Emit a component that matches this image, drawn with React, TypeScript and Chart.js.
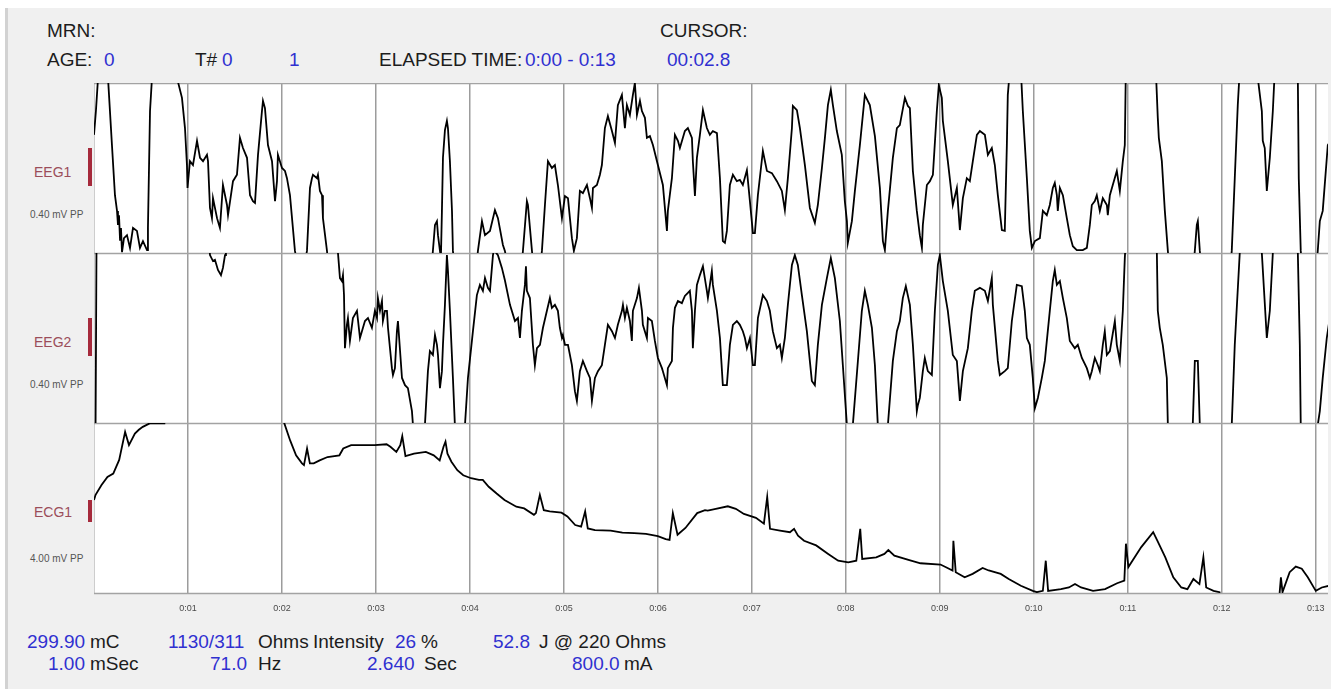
import React, { useEffect, useRef } from 'react';
import { Chart, registerables } from 'chart.js';

Chart.register(...registerables);

// ---- time axis (seconds) ----
const xTickSeconds = [0, 1, 2, 3, 4, 5, 6, 7, 8, 9, 10, 11, 12, 13];
const xTickLabels = ['', '0:01', '0:02', '0:03', '0:04', '0:05', '0:06', '0:07', '0:08', '0:09', '0:10', '0:11', '0:12', '0:13'];
const timeMax = 13.13;

// ---- EEG1 (µV, 0.40 mV PP => ±200 µV) ----
const eeg1Time = [0, 0.021, 0.043, 0.149, 0.191, 0.223, 0.245, 0.255, 0.266, 0.277, 0.287, 0.298, 0.319, 0.351, 0.383, 0.415, 0.457, 0.489, 0.521, 0.564, 0.574, 0.596, 0.617, 0.883, 0.936, 0.968, 0.989, 0.995, 1.021, 1.053, 1.096, 1.128, 1.16, 1.202, 1.213, 1.234, 1.255, 1.266, 1.309, 1.34, 1.372, 1.415, 1.426, 1.479, 1.521, 1.553, 1.585, 1.628, 1.66, 1.691, 1.713, 1.745, 1.787, 1.798, 1.819, 1.851, 1.894, 1.926, 1.947, 1.957, 2.0, 2.032, 2.053, 2.085, 2.138, 2.16, 2.245, 2.266, 2.298, 2.319, 2.33, 2.372, 2.383, 2.404, 2.426, 2.436, 2.479, 2.489, 3.596, 3.606, 3.628, 3.649, 3.66, 3.681, 3.691, 3.702, 3.713, 3.734, 3.755, 3.766, 3.787, 3.809, 3.819, 3.83, 4.074, 4.085, 4.128, 4.16, 4.213, 4.266, 4.298, 4.351, 4.372, 4.394, 4.553, 4.564, 4.606, 4.617, 4.66, 4.67, 4.755, 4.766, 4.798, 4.83, 4.872, 4.904, 4.936, 4.979, 5.011, 5.043, 5.085, 5.106, 5.138, 5.17, 5.202, 5.245, 5.277, 5.298, 5.309, 5.351, 5.383, 5.404, 5.436, 5.468, 5.511, 5.543, 5.574, 5.617, 5.649, 5.67, 5.702, 5.734, 5.755, 5.777, 5.809, 5.83, 5.862, 5.883, 5.915, 5.947, 6.0, 6.053, 6.096, 6.106, 6.149, 6.181, 6.213, 6.234, 6.287, 6.319, 6.362, 6.372, 6.394, 6.415, 6.447, 6.479, 6.521, 6.553, 6.585, 6.628, 6.66, 6.691, 6.713, 6.734, 6.766, 6.798, 6.84, 6.872, 6.904, 6.947, 6.979, 7.011, 7.032, 7.064, 7.117, 7.16, 7.213, 7.266, 7.319, 7.351, 7.383, 7.426, 7.436, 7.479, 7.511, 7.564, 7.617, 7.67, 7.702, 7.745, 7.777, 7.809, 7.84, 7.862, 7.904, 7.957, 7.989, 8.011, 8.021, 8.064, 8.096, 8.149, 8.202, 8.255, 8.309, 8.362, 8.394, 8.415, 8.447, 8.5, 8.543, 8.574, 8.628, 8.66, 8.681, 8.713, 8.755, 8.787, 8.809, 8.819, 8.862, 8.894, 8.926, 8.968, 8.989, 9.021, 9.032, 9.085, 9.138, 9.181, 9.213, 9.245, 9.287, 9.319, 9.351, 9.394, 9.426, 9.479, 9.511, 9.553, 9.585, 9.617, 9.66, 9.691, 9.713, 9.723, 9.745, 9.862, 9.883, 9.926, 9.957, 9.979, 10.011, 10.064, 10.096, 10.138, 10.17, 10.202, 10.223, 10.245, 10.255, 10.277, 10.309, 10.351, 10.383, 10.415, 10.457, 10.521, 10.564, 10.596, 10.617, 10.649, 10.67, 10.702, 10.734, 10.777, 10.787, 10.809, 10.84, 10.883, 10.915, 10.947, 10.968, 10.979, 11.298, 11.319, 11.33, 11.362, 11.394, 11.426, 11.436, 11.702, 11.713, 11.734, 11.745, 11.766, 11.777, 12.096, 12.106, 12.138, 12.17, 12.191, 12.372, 12.383, 12.426, 12.436, 12.457, 12.479, 12.511, 12.543, 12.564, 12.798, 12.809, 12.819, 12.84, 12.851, 13.011, 13.021, 13.043, 13.074, 13.128, 13.16];
const eeg1Value = [78, 136, 212, 212, 54, -64, -101, -134, -111, -169, -141, -198, -165, -158, -188, -141, -148, -188, -172, -193, -141, 134, 212, 212, 165, 94, 7, -47, 16, 7, 64, 24, 16, 31, 16, -94, -118, -71, -118, -141, -40, -87, -111, -31, -16, 71, 47, 24, -64, -78, -82, 31, 134, 158, 141, 54, 16, -78, -31, 31, 0, -7, -24, -64, -195, -221, -221, -195, -47, -24, -16, -24, -16, -54, -64, -118, -195, -221, -221, -195, -134, -125, -158, -195, -212, -101, 24, 89, 111, 94, 16, -101, -195, -221, -221, -195, -125, -158, -148, -99, -118, -181, -195, -221, -221, -195, -78, -87, -195, -221, -221, -195, -87, 16, 0, 7, -40, -118, -66, -71, -165, -195, -165, -54, -59, -40, -71, -94, -47, -40, -16, 7, 94, 122, 87, 59, 148, 172, 94, 148, 125, 172, 200, 125, 158, 134, 118, 71, 75, 54, 7, -40, -148, -101, -24, 78, 64, 47, 87, 94, 71, 16, -66, 24, 78, 136, 94, 78, 87, 82, -24, -172, -176, -148, -40, -16, -31, -28, -40, -5, -78, -153, -153, -64, 40, -7, -12, -31, -54, -99, -24, 94, 146, 136, 94, 7, -94, -129, -87, 0, 71, 148, 184, 148, 87, 31, -78, -125, -176, -125, -54, 54, 172, 148, 75, -47, -172, -193, -101, 24, 94, 101, 165, 146, 141, -7, -101, -158, -188, -134, -40, -31, -16, 134, 195, 165, 111, 16, -87, -47, -146, -71, -24, -31, 16, 78, 87, 78, 31, 47, 7, -64, -146, -148, 54, 172, 231, 231, 134, -24, -148, -188, -172, -165, -101, -111, -87, -47, -35, -64, -101, -47, -64, -118, -158, -184, -193, -193, -188, -134, -87, -78, -64, -101, -71, -87, -111, -64, -40, -7, -54, 16, 54, 231, 231, 118, 71, 16, -101, -195, -221, -221, -195, -134, -125, -195, -221, -221, -195, -24, 148, 231, 231, 212, 134, 64, 47, -54, 24, 134, 231, 231, 212, -24, -195, -221, -221, -195, -125, -101, 54, 64];

// ---- EEG2 (µV, ±200) ----
const eeg2Time = [0, 0.016, 0.027, 1.223, 1.234, 1.266, 1.287, 1.319, 1.351, 1.372, 1.394, 1.404, 2.585, 2.596, 2.617, 2.638, 2.649, 2.66, 2.67, 2.691, 2.702, 2.723, 2.755, 2.798, 2.83, 2.851, 2.883, 2.915, 2.957, 2.989, 3.011, 3.021, 3.043, 3.064, 3.074, 3.096, 3.117, 3.128, 3.17, 3.181, 3.202, 3.223, 3.234, 3.277, 3.309, 3.34, 3.383, 3.394, 3.404, 3.511, 3.521, 3.553, 3.574, 3.606, 3.628, 3.649, 3.66, 3.681, 3.702, 3.713, 3.734, 3.755, 3.766, 3.787, 3.819, 3.84, 3.851, 3.936, 3.947, 3.979, 4.032, 4.074, 4.106, 4.138, 4.16, 4.191, 4.213, 4.245, 4.255, 4.298, 4.34, 4.372, 4.426, 4.479, 4.511, 4.532, 4.553, 4.585, 4.596, 4.606, 4.638, 4.67, 4.691, 4.713, 4.745, 4.777, 4.819, 4.851, 4.872, 4.904, 4.936, 4.957, 4.979, 4.989, 5.011, 5.043, 5.085, 5.117, 5.138, 5.17, 5.202, 5.245, 5.277, 5.298, 5.33, 5.362, 5.404, 5.436, 5.468, 5.511, 5.543, 5.574, 5.617, 5.628, 5.649, 5.67, 5.702, 5.723, 5.734, 5.777, 5.798, 5.83, 5.84, 5.883, 5.894, 5.936, 5.968, 6.0, 6.043, 6.053, 6.096, 6.106, 6.149, 6.16, 6.181, 6.213, 6.255, 6.287, 6.319, 6.34, 6.362, 6.372, 6.394, 6.415, 6.447, 6.479, 6.521, 6.532, 6.553, 6.574, 6.585, 6.628, 6.66, 6.691, 6.734, 6.766, 6.798, 6.84, 6.872, 6.904, 6.926, 6.947, 6.979, 7.011, 7.032, 7.064, 7.117, 7.16, 7.191, 7.223, 7.266, 7.298, 7.319, 7.351, 7.383, 7.426, 7.457, 7.489, 7.532, 7.585, 7.638, 7.67, 7.702, 7.745, 7.798, 7.84, 7.883, 7.936, 7.968, 8.011, 8.032, 8.064, 8.074, 8.128, 8.17, 8.202, 8.234, 8.277, 8.309, 8.34, 8.362, 8.426, 8.447, 8.5, 8.543, 8.574, 8.606, 8.638, 8.681, 8.713, 8.755, 8.766, 8.787, 8.819, 8.84, 8.872, 8.915, 8.947, 8.979, 9.0, 9.032, 9.085, 9.138, 9.181, 9.213, 9.245, 9.298, 9.34, 9.372, 9.426, 9.479, 9.511, 9.553, 9.564, 9.617, 9.638, 9.691, 9.723, 9.766, 9.819, 9.872, 9.904, 9.926, 9.957, 9.989, 10.011, 10.043, 10.085, 10.117, 10.17, 10.202, 10.223, 10.245, 10.277, 10.309, 10.351, 10.383, 10.436, 10.468, 10.511, 10.564, 10.596, 10.617, 10.649, 10.681, 10.702, 10.734, 10.755, 10.777, 10.809, 10.862, 10.883, 10.915, 10.947, 10.968, 10.979, 11.298, 11.309, 11.319, 11.34, 11.372, 11.415, 11.426, 11.436, 11.681, 11.691, 11.713, 11.745, 11.766, 11.777, 12.096, 12.106, 12.138, 12.191, 12.202, 12.415, 12.426, 12.479, 12.511, 12.543, 12.553, 12.798, 12.809, 12.83, 12.84, 12.851, 13.011, 13.021, 13.043, 13.074, 13.117, 13.16];
const eeg2Value = [-240, -240, 231, 231, 195, 181, 184, 160, 148, 165, 195, 231, 231, 200, 141, 134, 148, 101, -24, 31, 47, -7, 47, 64, 0, 16, 40, 47, 24, 64, 47, 94, 64, 87, 40, 64, 64, 24, -71, -87, -71, 16, 40, -94, -111, -118, -172, -205, -240, -240, -205, -78, -31, -40, 7, -16, -40, -118, -78, -16, 78, 195, 158, 64, -94, -205, -240, -240, -205, -94, 16, 101, 125, 111, 141, 118, 111, 195, 207, 195, 165, 136, 78, 40, 47, 0, 64, 125, 169, 111, 94, -16, -64, -24, -16, 24, 64, 94, 71, 78, 64, 24, 0, 7, -16, -16, -64, -125, -148, -78, -54, -78, -94, -148, -94, -78, -64, -16, 31, 16, 0, 31, 64, 78, 47, 71, 40, -7, 64, 94, 118, 64, 31, 0, 47, 40, -7, -47, -71, -78, -111, -71, -54, 24, 71, 87, 82, 99, 106, 111, 64, -24, 64, 125, 148, 169, 111, 94, 125, 158, 125, 64, 0, -111, -111, -16, 31, 40, 31, 16, 0, -24, 0, -64, -64, 47, 101, 87, 64, 16, -24, -16, -47, 0, 78, 172, 195, 172, 101, 16, -101, -111, -16, 78, 141, 188, 141, 40, -64, -205, -240, -240, -205, -54, 64, 111, 78, 24, -64, -205, -240, -240, -205, -54, 16, 40, 94, 122, 78, -16, -172, -158, -141, -78, -47, -78, -87, 64, 172, 195, 134, 64, -40, -54, -148, -78, -24, 64, 111, 118, 111, 87, 141, 78, -54, -87, -78, -71, 40, 125, 122, 64, 0, -16, -94, -165, -141, -94, -54, 64, 134, 160, 125, 134, 94, 47, -7, -24, -16, -47, -71, -94, -78, -47, -64, -78, -16, 16, -40, -31, 40, -16, -54, 64, 188, 231, 231, 200, 64, 24, -16, -94, -205, -240, -240, -205, -54, -54, -205, -240, -240, -205, -16, 200, 231, 231, 200, 0, 64, 200, 231, 231, 200, -16, -205, -240, -240, -205, -172, -94, 0, 64];

// ---- ECG1 (mV, 4.00 mV PP => ±2 mV) ----
const ecg1Time = [0, 0.017, 0.08, 0.143, 0.205, 0.268, 0.331, 0.372, 0.435, 0.477, 0.519, 0.582, 0.596, 0.749, 0.761, 2.011, 2.024, 2.087, 2.15, 2.213, 2.234, 2.267, 2.297, 2.338, 2.401, 2.485, 2.611, 2.652, 2.736, 2.987, 3.113, 3.154, 3.217, 3.259, 3.28, 3.314, 3.405, 3.531, 3.615, 3.678, 3.719, 3.74, 3.761, 3.803, 3.866, 3.929, 4.012, 4.096, 4.137, 4.2, 4.284, 4.368, 4.494, 4.577, 4.681, 4.702, 4.744, 4.786, 4.849, 4.974, 5.037, 5.12, 5.183, 5.226, 5.254, 5.33, 5.497, 5.622, 5.748, 5.873, 5.999, 6.083, 6.124, 6.159, 6.209, 6.293, 6.418, 6.501, 6.53, 6.616, 6.744, 6.829, 6.915, 7.043, 7.128, 7.163, 7.193, 7.299, 7.405, 7.449, 7.491, 7.555, 7.684, 7.812, 7.918, 8.026, 8.111, 8.153, 8.174, 8.323, 8.41, 8.452, 8.516, 8.666, 8.794, 9.007, 9.071, 9.135, 9.144, 9.169, 9.264, 9.349, 9.455, 9.52, 9.648, 9.733, 9.862, 9.989, 10.032, 10.096, 10.127, 10.152, 10.288, 10.373, 10.438, 10.502, 10.63, 10.758, 10.886, 10.963, 10.98, 11.006, 11.143, 11.27, 11.314, 11.399, 11.484, 11.569, 11.634, 11.698, 11.762, 11.804, 11.834, 11.912, 11.976, 11.989, 12.606, 12.616, 12.629, 12.646, 12.722, 12.787, 12.851, 12.915, 13.0, 13.064, 13.138];
const ecg1Value = [0.19, 0.31, 0.54, 0.73, 0.81, 1.13, 1.79, 1.48, 1.75, 1.84, 1.91, 1.98, 1.99, 1.99, 2.31, 2.31, 2.0, 1.59, 1.24, 1.05, 1.01, 1.4, 1.05, 1.05, 1.12, 1.2, 1.24, 1.4, 1.48, 1.48, 1.5, 1.44, 1.32, 1.48, 1.69, 1.22, 1.28, 1.32, 1.24, 1.12, 1.44, 1.56, 1.28, 1.09, 0.89, 0.77, 0.7, 0.66, 0.66, 0.5, 0.34, 0.19, 0.03, -0.01, -0.16, -0.12, 0.31, -0.05, -0.08, -0.11, -0.2, -0.4, -0.44, -0.08, -0.48, -0.52, -0.53, -0.58, -0.59, -0.61, -0.66, -0.73, -0.75, -0.12, -0.63, -0.47, -0.12, -0.05, -0.06, -0.02, 0.04, -0.02, -0.14, -0.23, -0.37, 0.26, -0.49, -0.53, -0.57, -0.49, -0.65, -0.77, -0.88, -1.08, -1.24, -1.28, -1.24, -0.49, -1.2, -1.16, -1.08, -0.99, -1.12, -1.22, -1.3, -1.33, -1.4, -1.47, -0.77, -1.51, -1.63, -1.55, -1.41, -1.47, -1.55, -1.67, -1.83, -1.95, -1.98, -1.95, -1.24, -1.95, -1.91, -1.87, -1.79, -1.87, -1.95, -1.91, -1.77, -1.71, -0.84, -1.39, -0.92, -0.57, -0.77, -1.16, -1.63, -1.87, -1.91, -1.67, -1.79, -1.16, -1.87, -1.95, -1.98, -2.16, -2.16, -1.98, -1.63, -1.98, -1.51, -1.38, -1.43, -1.63, -1.95, -1.87, -1.83];

const channelNames = ['EEG1', 'EEG2', 'ECG1'];
const channelScales = ['0.40 mV PP', '0.40 mV PP', '4.00 mV PP'];

const FONT = "'Liberation Sans', Arial, Helvetica, sans-serif";
const BLUE = '#3030d0';
const INK = '#1c1c1c';

const toPoints = (t: number[], v: number[]) => t.map((x, i) => ({ x, y: v[i] }));

const hiddenY = (min: number, max: number) => ({
  type: 'linear' as const,
  position: 'left' as const,
  stack: 'channels',
  stackWeight: 1,
  min,
  max,
  display: true,
  grid: { display: false },
  border: { display: false },
  ticks: { display: false, padding: 0 },
  afterFit: (s: any) => { s.width = 0; },
});

const panelPlugin = {
  id: 'panelPlugin',
  beforeDraw(chart: any) {
    const { ctx, chartArea: a } = chart;
    ctx.save();
    ctx.fillStyle = '#ffffff';
    ctx.fillRect(a.left, a.top, a.right - a.left, a.bottom - a.top);
    ctx.restore();
  },
  beforeDatasetsDraw(chart: any) {
    const { ctx, chartArea: a } = chart;
    const ys = ['yEeg1', 'yEeg2', 'yEcg1'].map((id) => chart.scales[id]);
    const lines = [a.top, ys[0].bottom, ys[1].bottom, a.bottom];
    ctx.save();
    ctx.strokeStyle = '#a3a3a3';
    ctx.lineWidth = 1.5;
    lines.forEach((y: number) => {
      ctx.beginPath();
      ctx.moveTo(a.left, Math.round(y) + 0.5);
      ctx.lineTo(a.right, Math.round(y) + 0.5);
      ctx.stroke();
    });
    ctx.restore();
  },
  beforeDatasetDraw(chart: any, args: any) {
    const { ctx, chartArea: a } = chart;
    const ys = args.meta.yScale;
    ctx.save();
    ctx.beginPath();
    ctx.rect(a.left, ys.top, a.right - a.left, ys.bottom - ys.top);
    ctx.clip();
  },
  afterDatasetDraw(chart: any) {
    chart.ctx.restore();
  },
};

function EegChart() {
  const ref = useRef<HTMLCanvasElement | null>(null);
  useEffect(() => {
    if (!ref.current) return;
    const line = { borderColor: '#000000', borderWidth: 1.8, pointRadius: 0, tension: 0, fill: false };
    const chart = new Chart(ref.current, {
      type: 'line',
      data: {
        datasets: [
          { label: channelNames[0], data: toPoints(eeg1Time, eeg1Value), yAxisID: 'yEeg1', ...line },
          { label: channelNames[1], data: toPoints(eeg2Time, eeg2Value), yAxisID: 'yEeg2', ...line },
          { label: channelNames[2], data: toPoints(ecg1Time, ecg1Value), yAxisID: 'yEcg1', ...line },
        ],
      },
      options: {
        animation: false,
        responsive: false,
        devicePixelRatio: 1,
        events: [],
        layout: { padding: 0 },
        plugins: { legend: { display: false }, tooltip: { enabled: false } },
        scales: {
          x: {
            type: 'linear',
            min: 0,
            max: timeMax,
            afterBuildTicks: (s: any) => {
              s.ticks = xTickSeconds.map((value) => ({ value }));
            },
            grid: { color: '#9c9c9c', lineWidth: 1.5, drawTicks: true, tickLength: 10, tickColor: 'rgba(0,0,0,0)' },
            border: { display: false },
            ticks: {
              autoSkip: false,
              maxRotation: 0,
              padding: 0,
              color: '#4a4a4a',
              font: { family: FONT, size: 9 },
              callback: (v: any) => {
                const i = xTickSeconds.indexOf(Number(v));
                return i >= 0 ? xTickLabels[i] : '';
              },
            },
            afterFit: (s: any) => { s.height = 30; },
          },
          yEcg1: hiddenY(-2, 2),
          yEeg2: hiddenY(-200, 200),
          yEeg1: hiddenY(-200, 200),
        } as any,
      },
      plugins: [panelPlugin],
    });
    return () => chart.destroy();
  }, []);
  return (
    <canvas
      ref={ref}
      width={1234}
      height={540}
      style={{ position: 'absolute', left: 94, top: 83, width: 1234, height: 540 }}
    />
  );
}

function Txt(p: { x: number; y: number; c?: string; s?: number; children: React.ReactNode }) {
  const s = p.s ?? 19;
  return (
    <div
      style={{
        position: 'absolute',
        left: p.x,
        top: p.y,
        color: p.c ?? INK,
        fontSize: s,
        lineHeight: `${s}px`,
        fontFamily: FONT,
        whiteSpace: 'nowrap',
      }}
    >
      {p.children}
    </div>
  );
}

export default function App() {
  const centers = [168, 338, 508];
  const barTop = [148, 318, 500];
  const barH = [38, 38, 22];
  const r1 = 632;
  const r2 = 654;
  return (
    <div style={{ position: 'fixed', left: 0, top: 0, width: 1331, height: 689, background: '#ffffff', overflow: 'hidden' }}>
      <div
        style={{
          position: 'absolute',
          left: 5,
          top: 8,
          width: 1326,
          height: 681,
          background: '#f0f0f0',
          borderLeft: '3px solid #d2d2d2',
          boxSizing: 'border-box',
        }}
      />
      {/* header */}
      <Txt x={47} y={21}>MRN:</Txt>
      <Txt x={660} y={21}>CURSOR:</Txt>
      <Txt x={47} y={50}>AGE:</Txt>
      <Txt x={104} y={50} c={BLUE}>0</Txt>
      <Txt x={195} y={50}>T#</Txt>
      <Txt x={222} y={50} c={BLUE}>0</Txt>
      <Txt x={289} y={50} c={BLUE}>1</Txt>
      <Txt x={379} y={50}>ELAPSED TIME:</Txt>
      <Txt x={525} y={50} c={BLUE}>0:00 - 0:13</Txt>
      <Txt x={667} y={50} c={BLUE}>00:02.8</Txt>

      {/* channel labels */}
      {channelNames.map((n, i) => (
        <React.Fragment key={n}>
          <Txt x={34} y={centers[i] - 3} c="#9b4d5a" s={14}>{n}</Txt>
          <Txt x={30} y={centers[i] + (i === 2 ? 46 : 42)} c="#555555" s={10}>{channelScales[i]}</Txt>
          <div style={{ position: 'absolute', left: 88, top: barTop[i], width: 4, height: barH[i], background: '#a62a3c' }} />
        </React.Fragment>
      ))}

      <EegChart />

      {/* footer */}
      <Txt x={27} y={r1} c={BLUE}>299.90</Txt>
      <Txt x={90} y={r1}>mC</Txt>
      <Txt x={168} y={r1} c={BLUE}>1130/311</Txt>
      <Txt x={258} y={r1}>Ohms</Txt>
      <Txt x={313} y={r1}>Intensity</Txt>
      <Txt x={395} y={r1} c={BLUE}>26</Txt>
      <Txt x={421} y={r1}>%</Txt>
      <Txt x={493} y={r1} c={BLUE}>52.8</Txt>
      <Txt x={539} y={r1}>J @ 220 Ohms</Txt>

      <Txt x={48} y={r2} c={BLUE}>1.00</Txt>
      <Txt x={90} y={r2}>mSec</Txt>
      <Txt x={210} y={r2} c={BLUE}>71.0</Txt>
      <Txt x={258} y={r2}>Hz</Txt>
      <Txt x={367} y={r2} c={BLUE}>2.640</Txt>
      <Txt x={424} y={r2}>Sec</Txt>
      <Txt x={572} y={r2} c={BLUE}>800.0</Txt>
      <Txt x={624} y={r2}>mA</Txt>
    </div>
  );
}
